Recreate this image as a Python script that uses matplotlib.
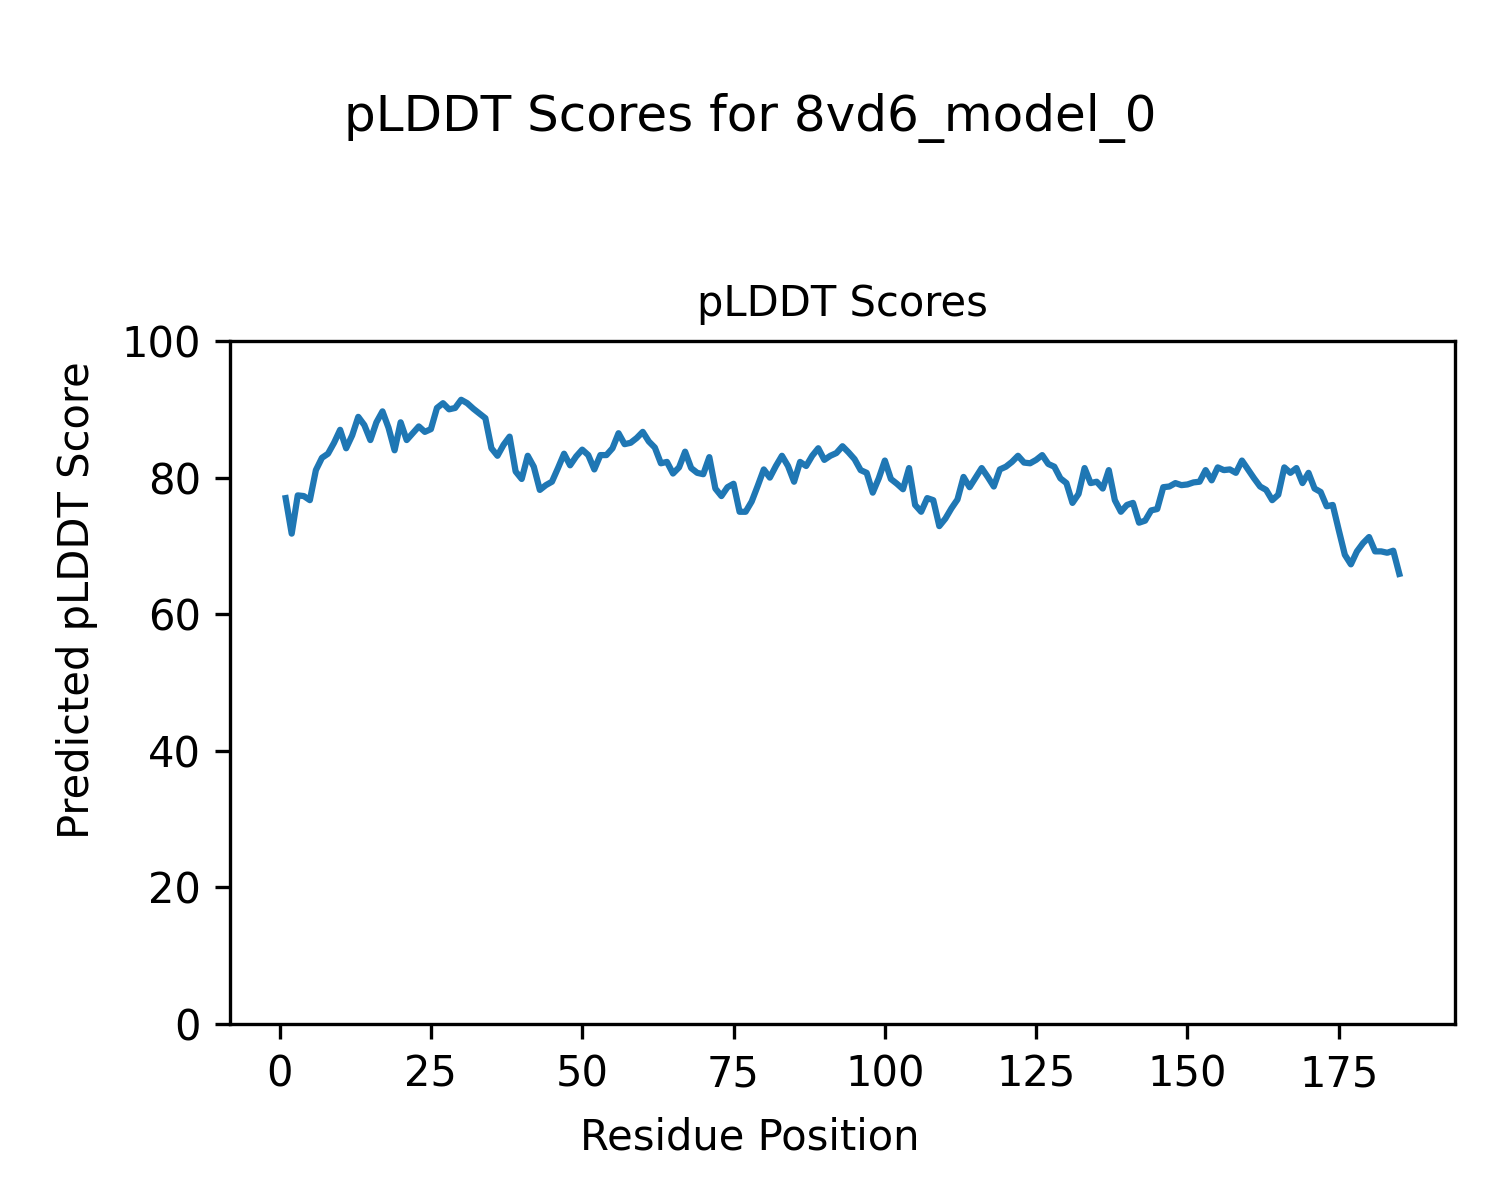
import matplotlib
matplotlib.use("Agg")
import matplotlib.pyplot as plt
import numpy as np

residues = list(range(1, 186))
plddt = [
    77.0, 71.8, 77.4, 77.3, 76.7, 81.1, 82.9, 83.5, 85.1, 87.0,
    84.3, 86.2, 88.9, 87.7, 85.5, 88.1, 89.7, 87.3, 84.0, 88.1,
    85.5, 86.5, 87.5, 86.7, 87.1, 90.2, 90.9, 90.0, 90.2, 91.4,
    90.9, 90.1, 89.4, 88.7, 84.3, 83.2, 84.8, 86.0, 80.9, 79.8,
    83.2, 81.6, 78.2, 78.9, 79.4, 81.4, 83.5, 81.8, 83.1, 84.1,
    83.3, 81.2, 83.3, 83.3, 84.3, 86.5, 84.9, 85.1, 85.8, 86.7,
    85.3, 84.4, 82.1, 82.3, 80.6, 81.5, 83.8, 81.4, 80.7, 80.5,
    83.0, 78.4, 77.3, 78.6, 79.1, 75.0, 75.0, 76.5, 78.8, 81.2,
    80.0, 81.7, 83.2, 81.7, 79.4, 82.3, 81.7, 83.2, 84.3, 82.6,
    83.2, 83.6, 84.6, 83.7, 82.7, 81.1, 80.7, 77.8, 79.9, 82.5,
    79.8, 79.1, 78.3, 81.4, 76.0, 75.0, 77.0, 76.7, 72.9, 74.0,
    75.5, 76.8, 80.1, 78.6, 80.0, 81.4, 80.1, 78.7, 81.2, 81.6,
    82.3, 83.2, 82.2, 82.1, 82.6, 83.3, 82.0, 81.6, 79.9, 79.2,
    76.3, 77.6, 81.4, 79.2, 79.4, 78.4, 81.1, 76.7, 75.0, 76.0,
    76.3, 73.4, 73.7, 75.2, 75.4, 78.6, 78.7, 79.2, 78.9, 79.0,
    79.3, 79.4, 81.1, 79.6, 81.5, 81.1, 81.2, 80.7, 82.5, 81.2,
    79.9, 78.7, 78.2, 76.7, 77.5, 81.5, 80.7, 81.4, 79.2, 80.7,
    78.4, 77.9, 75.8, 76.0, 72.3, 68.7, 67.3, 69.2, 70.4, 71.3,
    69.2, 69.2, 69.0, 69.3, 65.9,
]

fig = plt.figure(figsize=(5, 4), dpi=300)
ax = fig.add_axes([0.1533, 0.1467, 0.8167, 0.5691])
ax.plot(residues, plddt, color="#1f77b4", linewidth=1.5)
ax.set_ylim(0, 100)
ax.set_title("pLDDT Scores", fontsize=10)
fig.supxlabel("Residue Position", fontsize=10, x=0.5, y=0.0517, va="center")
fig.supylabel("Predicted pLDDT Score", fontsize=10, x=0.0513, y=0.5, ha="center", va="center")
fig.suptitle("pLDDT Scores for 8vd6_model_0", fontsize=12, y=0.9225)
fig.savefig("out.png", dpi=300)
